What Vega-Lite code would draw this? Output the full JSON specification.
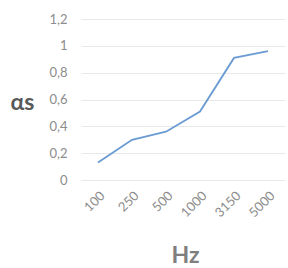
{
  "$schema": "https://vega.github.io/schema/vega-lite/v6.json",
  "width": 204,
  "height": 161,
  "autosize": "none",
  "padding": {"left": 81, "top": 19, "right": 3, "bottom": 88},
  "background": "white",
  "data": {
    "values": [
      {"hz": "100", "a": 0.13},
      {"hz": "250", "a": 0.30},
      {"hz": "500", "a": 0.36},
      {"hz": "1000", "a": 0.51},
      {"hz": "3150", "a": 0.91},
      {"hz": "5000", "a": 0.96}
    ]
  },
  "config": {
    "view": {"stroke": null},
    "font": "Lato"
  },
  "mark": {"type": "line", "color": "#6a9bd2", "strokeWidth": 1.8},
  "encoding": {
    "x": {
      "field": "hz",
      "type": "ordinal",
      "sort": null,
      "scale": {"type": "point", "padding": 0.5},
      "axis": {
        "title": "Hz",
        "titleFont": "Lato",
        "titleFontSize": 23,
        "titleFontWeight": "bold",
        "titleColor": "#7f7f7f",
        "titleBaseline": "alphabetic",
        "titleY": 82,
        "titleX": 104,
        "labelAngle": -45,
        "labelFontSize": 13,
        "labelColor": "#8c8c8c",
        "labelPadding": 9,
        "ticks": false,
        "domain": false,
        "grid": false
      }
    },
    "y": {
      "field": "a",
      "type": "quantitative",
      "scale": {"domain": [0, 1.2], "nice": false},
      "axis": {
        "values": [0, 0.2, 0.4, 0.6, 0.8, 1, 1.2],
        "labelExpr": "replace(format(datum.value, '~g'), '.', ',')",
        "title": "αs",
        "titleAngle": 0,
        "titleAlign": "left",
        "titleBaseline": "middle",
        "titleX": -71,
        "titleY": 83,
        "titleFont": "Lato",
        "titleFontSize": 23,
        "titleFontWeight": "bold",
        "titleColor": "#595959",
        "labelFontSize": 13,
        "labelColor": "#8c8c8c",
        "labelPadding": 14,
        "ticks": false,
        "domain": false,
        "gridColor": "#e9e9e9",
        "gridWidth": 1
      }
    }
  }
}
